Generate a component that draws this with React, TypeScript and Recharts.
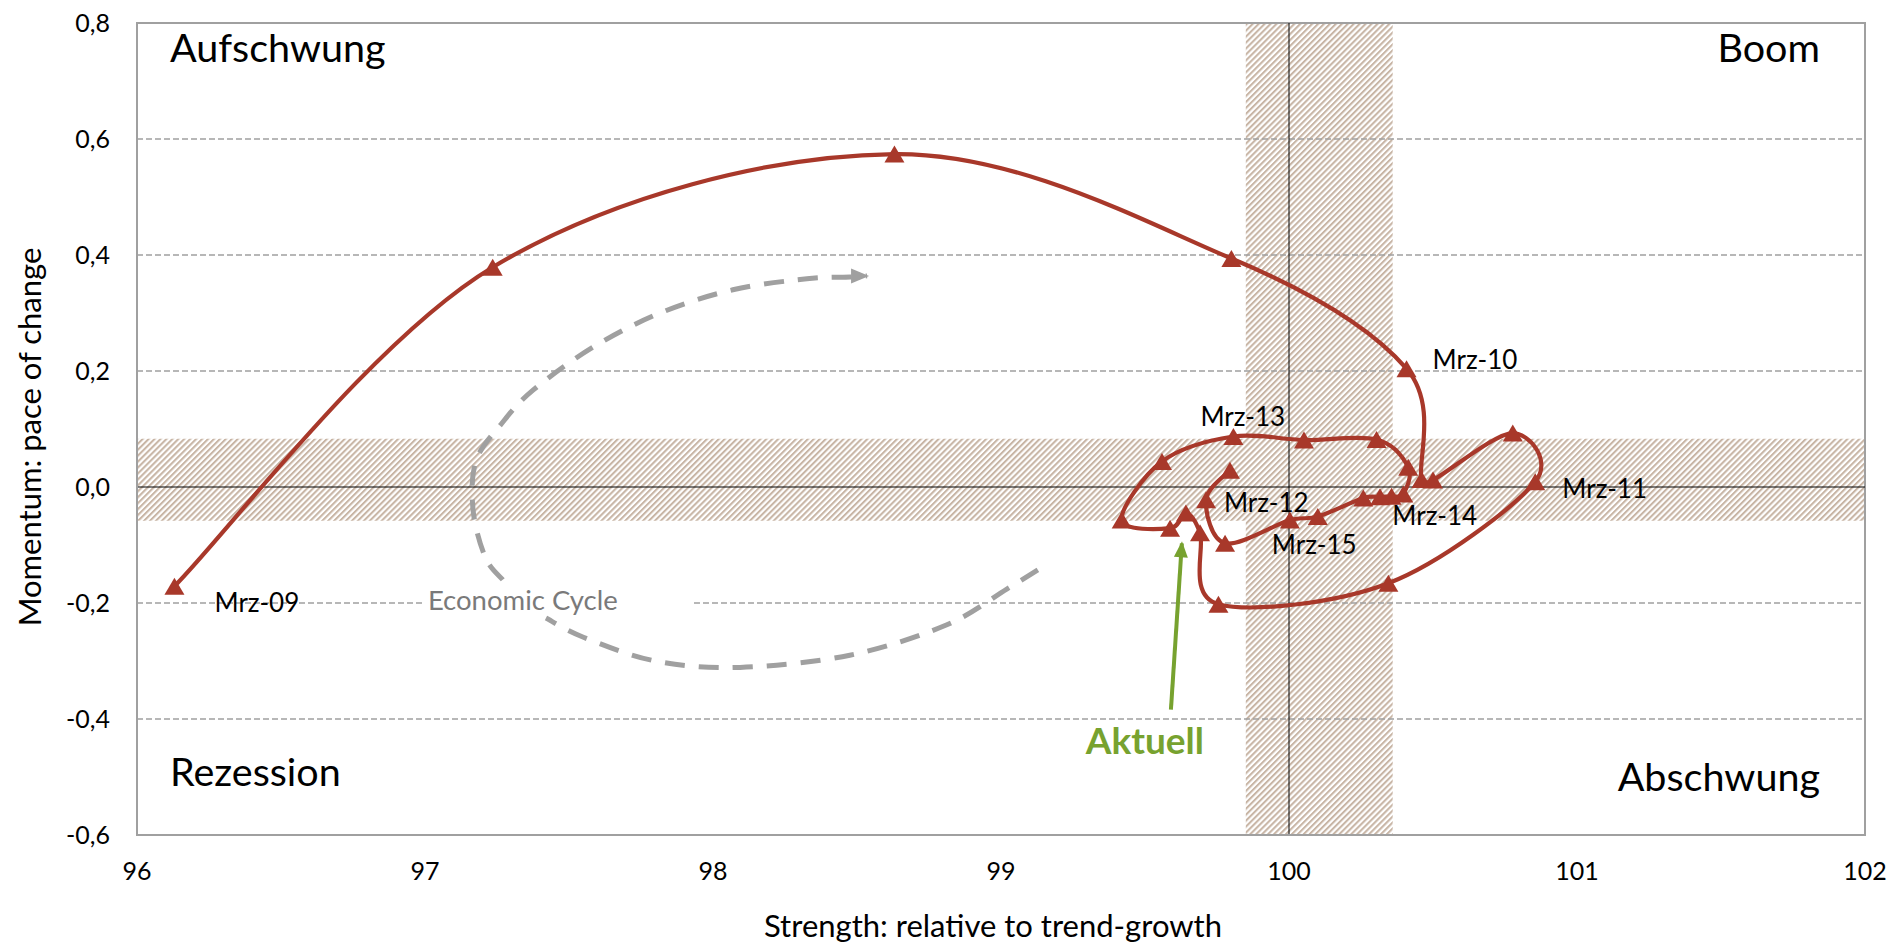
import React from 'react';
import {
  ComposedChart,
  XAxis,
  YAxis,
  Line,
  ReferenceArea,
  ReferenceLine,
  ReferenceDot,
  LabelList,
} from 'recharts';

// ---- data ----
const strength = [
  96.13, 97.235, 98.63, 99.8, 100.408, 100.46, 100.5, 100.777, 100.855, 100.345,
  99.755, 99.691, 99.642, 99.587, 99.419, 99.559, 99.807, 100.052, 100.304, 100.414,
  100.397, 100.356, 100.316, 100.258, 100.1, 100.003, 99.778, 99.712, 99.795,
];
const momentum = [
  -0.171, 0.379, 0.574, 0.394, 0.204, 0.013, 0.012, 0.093, 0.009, -0.166,
  -0.202, -0.079, -0.045, -0.071, -0.057, 0.044, 0.087, 0.081, 0.082, 0.034,
  -0.012, -0.016, -0.017, -0.019, -0.051, -0.057, -0.097, -0.022, 0.029,
];
const pointLabels: Record<number, string> = {
  0: 'Mrz-09', 4: 'Mrz-10', 8: 'Mrz-11', 12: 'Mrz-12', 16: 'Mrz-13', 20: 'Mrz-14', 24: 'Mrz-15',
};

const cycleLowerX = [99.128, 99.02, 98.81, 98.475, 98.094, 97.8, 97.55, 97.42];
const cycleLowerY = [-0.143, -0.176, -0.238, -0.29, -0.311, -0.3, -0.259, -0.226];
const cycleUpperX = [97.27, 97.21, 97.167, 97.177, 97.267, 97.375, 97.583, 97.816, 98.069, 98.326, 98.476, 98.535];
const cycleUpperY = [-0.16, -0.122, -0.04, 0.045, 0.11, 0.167, 0.241, 0.3, 0.34, 0.359, 0.362, 0.364];

const aktuellX = [99.59, 99.628];
const aktuellY = [-0.384, -0.097];

const xTicks = [96, 97, 98, 99, 100, 101, 102];
const yTicks = [-0.6, -0.4, -0.2, 0, 0.2, 0.4, 0.6, 0.8];
const gridLevels = [0.6, 0.4, 0.2, -0.4];
const gappedGridLevel = -0.2;
const gridGap = [97.0, 97.934];
const bandStrength = [99.85, 100.36];
const bandMomentum = [-0.058, 0.083];
const cycleLabelAt = [97.01, -0.195];

const xDomain = [96, 102];
const yDomain = [-0.6, 0.8];

// ---- styles ----
const RED = '#a8382a';
const GREY = '#a0a0a0';
const GREEN = '#77a22f';
const FONT = 'Lato, "Open Sans", sans-serif';

const labelOffsets: Record<number, [number, number]> = {
  0: [40, 17], 4: [26, -9], 8: [27, 7], 12: [38, -10], 16: [-33, -20], 20: [-11, 22], 24: [-46, 28],
};

const toPoints = (xs: number[], ys: number[]) => xs.map((x, i) => ({ x, y: ys[i] }));
const mainData = toPoints(strength, momentum);
const cycleLower = toPoints(cycleLowerX, cycleLowerY);
const cycleUpper = toPoints(cycleUpperX, cycleUpperY);
const aktuellData = toPoints(aktuellX, aktuellY);

// Excel-like smoothed line (Catmull-Rom Bezier with clamped tangents)
const smoothCurve = (context: any) => {
  let pts: number[][] = [];
  return {
    areaStart() {},
    areaEnd() {},
    lineStart() {
      pts = [];
    },
    point(x: number, y: number) {
      pts.push([+x, +y]);
    },
    lineEnd() {
      const n = pts.length;
      if (n === 0) return;
      context.moveTo(pts[0][0], pts[0][1]);
      if (n === 1) return;
      const tangent = (i: number) => {
        const a = pts[Math.max(0, i - 1)];
        const b = pts[Math.min(n - 1, i + 1)];
        return [(b[0] - a[0]) / 6, (b[1] - a[1]) / 6];
      };
      for (let i = 0; i < n - 1; i++) {
        const p1 = pts[i];
        const p2 = pts[i + 1];
        const seg = Math.hypot(p2[0] - p1[0], p2[1] - p1[1]);
        const clamp = (t: number[]) => {
          const l = Math.hypot(t[0], t[1]);
          const m = seg * 0.5;
          return l > m && l > 0 ? [(t[0] * m) / l, (t[1] * m) / l] : t;
        };
        const t1 = clamp(tangent(i));
        const t2 = clamp(tangent(i + 1));
        context.bezierCurveTo(p1[0] + t1[0], p1[1] + t1[1], p2[0] - t2[0], p2[1] - t2[1], p2[0], p2[1]);
      }
    },
  };
};

const RedTriangle = (props: any) => {
  const { cx, cy, index } = props;
  if (cx == null || cy == null) return <g key={`rt${index}`} />;
  const w = 20;
  const h = 17;
  return (
    <polygon
      key={`rt${index}`}
      points={`${cx},${cy - h / 2} ${cx + w / 2},${cy + h / 2} ${cx - w / 2},${cy + h / 2}`}
      fill={RED}
    />
  );
};

const PointLabel = (props: any) => {
  const { x, y, index } = props;
  const text = pointLabels[index];
  if (!text || x == null) return null;
  const off = labelOffsets[index] || [20, 0];
  return (
    <text x={x + off[0]} y={y + off[1]} dy="0.35em" fontSize={26} fill="#000" fontFamily={FONT}>
      {text}
    </text>
  );
};

const CycleArrowHead = (props: any) => {
  const { cx, cy, index } = props;
  if (index !== cycleUpper.length - 1 || cx == null) return <g key={`ca${index}`} />;
  return <polygon key={`ca${index}`} points={`${cx + 2},${cy} ${cx - 16},${cy - 7.5} ${cx - 16},${cy + 7.5}`} fill={GREY} />;
};

const GreenArrowHead = (props: any) => {
  const { cx, cy, index } = props;
  if (index !== aktuellData.length - 1 || cx == null) return <g key={`ga${index}`} />;
  return (
    <polygon
      key={`ga${index}`}
      points={`${cx},${cy - 2} ${cx + 7},${cy + 14} ${cx - 7},${cy + 14}`}
      fill={GREEN}
      transform={`rotate(4 ${cx} ${cy})`}
    />
  );
};

const cornerText = (text: string, dx: number, dy: number, anchor: 'start' | 'end') => (p: any) => (
  <text x={p.cx + dx} y={p.cy + dy} dy="0.35em" textAnchor={anchor} fontSize={39.5} fill="#000" fontFamily={FONT}>
    {text}
  </text>
);

export default function App() {
  return (
    <div style={{ position: 'relative' }}>
      <svg width={0} height={0} style={{ position: 'absolute' }}>
        <defs>
          <pattern id="hatch" patternUnits="userSpaceOnUse" width={4.2} height={4.2} patternTransform="rotate(45)">
            <rect width={4.2} height={4.2} fill="#ffffff" />
            <line x1={1} y1={0} x2={1} y2={4.2} stroke="#c8b5a5" strokeWidth={2.1} />
          </pattern>
        </defs>
      </svg>
      <ComposedChart
        width={1887}
        height={936}
        margin={{ top: 15, right: 30, left: 0, bottom: 0 }}
        style={{ fontFamily: FONT }}
      >
        <XAxis
          dataKey="x"
          type="number"
          domain={xDomain}
          ticks={xTicks}
          allowDataOverflow
          height={109}
          tickLine={false}
          tickSize={0}
          tickMargin={27}
          axisLine={{ stroke: GREY, strokeWidth: 2 }}
          tick={{ fontSize: 25, fill: '#000', fontFamily: FONT }}
          label={{
            content: (p: any) => {
              const vb = p.viewBox || {};
              return (
                <text
                  x={vb.x + vb.width / 2 - 8}
                  y={vb.y + 102}
                  textAnchor="middle"
                  fontSize={31}
                  fill="#000"
                  fontFamily={FONT}
                >
                  Strength: relative to trend-growth
                </text>
              );
            },
          }}
        />
        <YAxis
          dataKey="y"
          type="number"
          domain={yDomain}
          ticks={yTicks}
          allowDataOverflow
          width={129}
          tickLine={false}
          tickSize={0}
          tickMargin={27}
          axisLine={{ stroke: GREY, strokeWidth: 2 }}
          tick={{ fontSize: 25, fill: '#000', fontFamily: FONT }}
          tickFormatter={(v: number) => v.toFixed(1).replace('.', ',')}
          label={{
            content: (p: any) => {
              const vb = p.viewBox || {};
              const x = vb.x + 22;
              const y = vb.y + vb.height / 2 + 8;
              return (
                <text
                  x={x}
                  y={y}
                  dy="0.35em"
                  textAnchor="middle"
                  transform={`rotate(-90 ${x} ${y})`}
                  fontSize={31}
                  fill="#000"
                  fontFamily={FONT}
                >
                  Momentum: pace of change
                </text>
              );
            },
          }}
        />

        <ReferenceArea x1={bandStrength[0]} x2={bandStrength[1]} y1={yDomain[0]} y2={yDomain[1]} fill="url(#hatch)" fillOpacity={1} stroke="none" />
        <ReferenceArea x1={xDomain[0]} x2={xDomain[1]} y1={bandMomentum[0]} y2={bandMomentum[1]} fill="url(#hatch)" fillOpacity={1} stroke="none" />

        {gridLevels.map((g) => (
          <ReferenceLine key={`g${g}`} y={g} stroke={GREY} strokeWidth={1.5} strokeDasharray="6 3" />
        ))}
        <ReferenceLine
          segment={[{ x: xDomain[0], y: gappedGridLevel }, { x: gridGap[0], y: gappedGridLevel }]}
          stroke={GREY}
          strokeWidth={1.5}
          strokeDasharray="6 3"
        />
        <ReferenceLine
          segment={[{ x: gridGap[1], y: gappedGridLevel }, { x: xDomain[1], y: gappedGridLevel }]}
          stroke={GREY}
          strokeWidth={1.5}
          strokeDasharray="6 3"
        />
        <ReferenceLine y={0} stroke="#000" strokeWidth={1} />
        <ReferenceLine x={100} stroke="#000" strokeWidth={1} />
        <ReferenceArea x1={xDomain[0]} x2={xDomain[1]} y1={yDomain[0]} y2={yDomain[1]} fill="none" stroke={GREY} strokeWidth={2} />

        <Line
          data={cycleLower}
          dataKey="y"
          type={smoothCurve as any}
          stroke={GREY}
          strokeWidth={5}
          strokeDasharray="20 14"
          dot={false}
          activeDot={false}
          isAnimationActive={false}
          legendType="none"
        />
        <Line
          data={cycleUpper}
          dataKey="y"
          type={smoothCurve as any}
          stroke={GREY}
          strokeWidth={5}
          strokeDasharray="20 14"
          dot={CycleArrowHead}
          activeDot={false}
          isAnimationActive={false}
          legendType="none"
        />
        <Line
          data={aktuellData}
          dataKey="y"
          type="linear"
          stroke={GREEN}
          strokeWidth={4}
          dot={GreenArrowHead}
          activeDot={false}
          isAnimationActive={false}
          legendType="none"
        />
        <Line
          data={mainData}
          dataKey="y"
          type={smoothCurve as any}
          stroke={RED}
          strokeWidth={4.2}
          dot={RedTriangle}
          activeDot={false}
          isAnimationActive={false}
          legendType="none"
        >
          <LabelList dataKey="y" content={PointLabel} />
        </Line>

        <ReferenceDot x={xDomain[0]} y={yDomain[1]} r={0} ifOverflow="visible" shape={cornerText('Aufschwung', 33, 25, 'start')} />
        <ReferenceDot x={xDomain[1]} y={yDomain[1]} r={0} ifOverflow="visible" shape={cornerText('Boom', -45, 25, 'end')} />
        <ReferenceDot x={xDomain[0]} y={yDomain[0]} r={0} ifOverflow="visible" shape={cornerText('Rezession', 33, -63, 'start')} />
        <ReferenceDot x={xDomain[1]} y={yDomain[0]} r={0} ifOverflow="visible" shape={cornerText('Abschwung', -45, -58, 'end')} />
        <ReferenceDot
          x={cycleLabelAt[0]}
          y={cycleLabelAt[1]}
          r={0}
          ifOverflow="visible"
          shape={(p: any) => (
            <text x={p.cx} y={p.cy} dy="0.35em" fontSize={27.5} fill="#7a7a7a" fontFamily={FONT}>
              Economic Cycle
            </text>
          )}
        />
        <ReferenceDot
          x={aktuellX[0]}
          y={aktuellY[0]}
          r={0}
          ifOverflow="visible"
          shape={(p: any) => (
            <text x={p.cx - 26} y={p.cy + 31} dy="0.35em" textAnchor="middle" fontSize={37} fontWeight="bold" fill={GREEN} fontFamily={FONT}>
              Aktuell
            </text>
          )}
        />
      </ComposedChart>
    </div>
  );
}
